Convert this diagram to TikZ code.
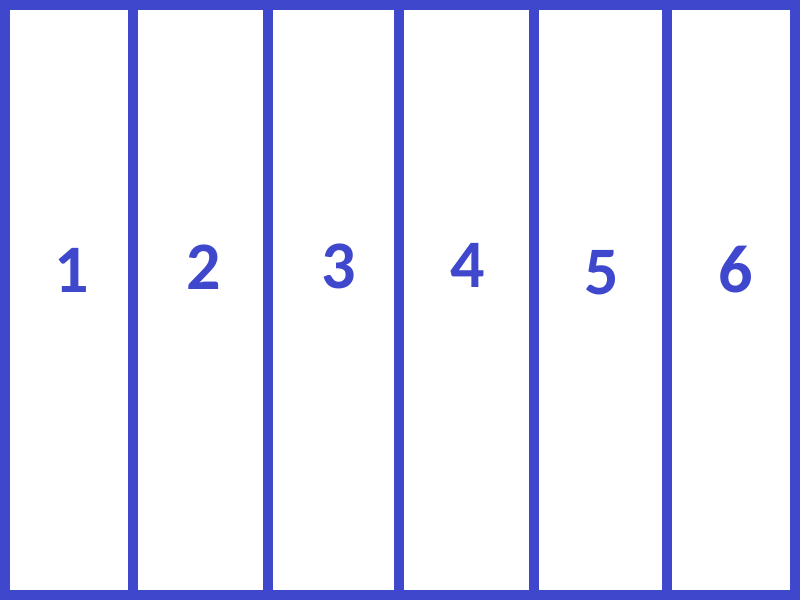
\documentclass[tikz,border=0pt]{standalone}
\usepackage{fontspec}
\setmainfont{Carlito}
\definecolor{ink}{HTML}{3F48CC}
\begin{document}
\begin{tikzpicture}[x=1pt,y=1pt,
  wall/.style={draw=ink,line width=10pt},
  digit/.style={text=ink,font=\fontsize{68}{68}\selectfont\bfseries,inner sep=0pt,anchor=center}]
\useasboundingbox (0,0) rectangle (800,600);
\fill[white] (0,0) rectangle (800,600);
\draw[wall] (5,5) rectangle (795,595);
\coordinate (t1) at (133,600); \coordinate (b1) at (133,0);
\coordinate (t2) at (268,600); \coordinate (b2) at (268,0);
\coordinate (t3) at (399,600); \coordinate (b3) at (399,0);
\coordinate (t4) at (534,600); \coordinate (b4) at (534,0);
\coordinate (t5) at (667,600); \coordinate (b5) at (667,0);
\foreach \i in {1,...,5} \draw[wall] (t\i) -- (b\i);
\node[digit] (n1) at (72,330) {1};
\node[digit] (n2) at (204,333) {2};
\node[digit] (n3) at (339,333.5) {3};
\node[digit] (n4) at (468,334.5) {4};
\node[digit] (n5) at (602,327) {5};
\node[digit] (n6) at (735.5,330.5) {6};
\end{tikzpicture}
\end{document}
